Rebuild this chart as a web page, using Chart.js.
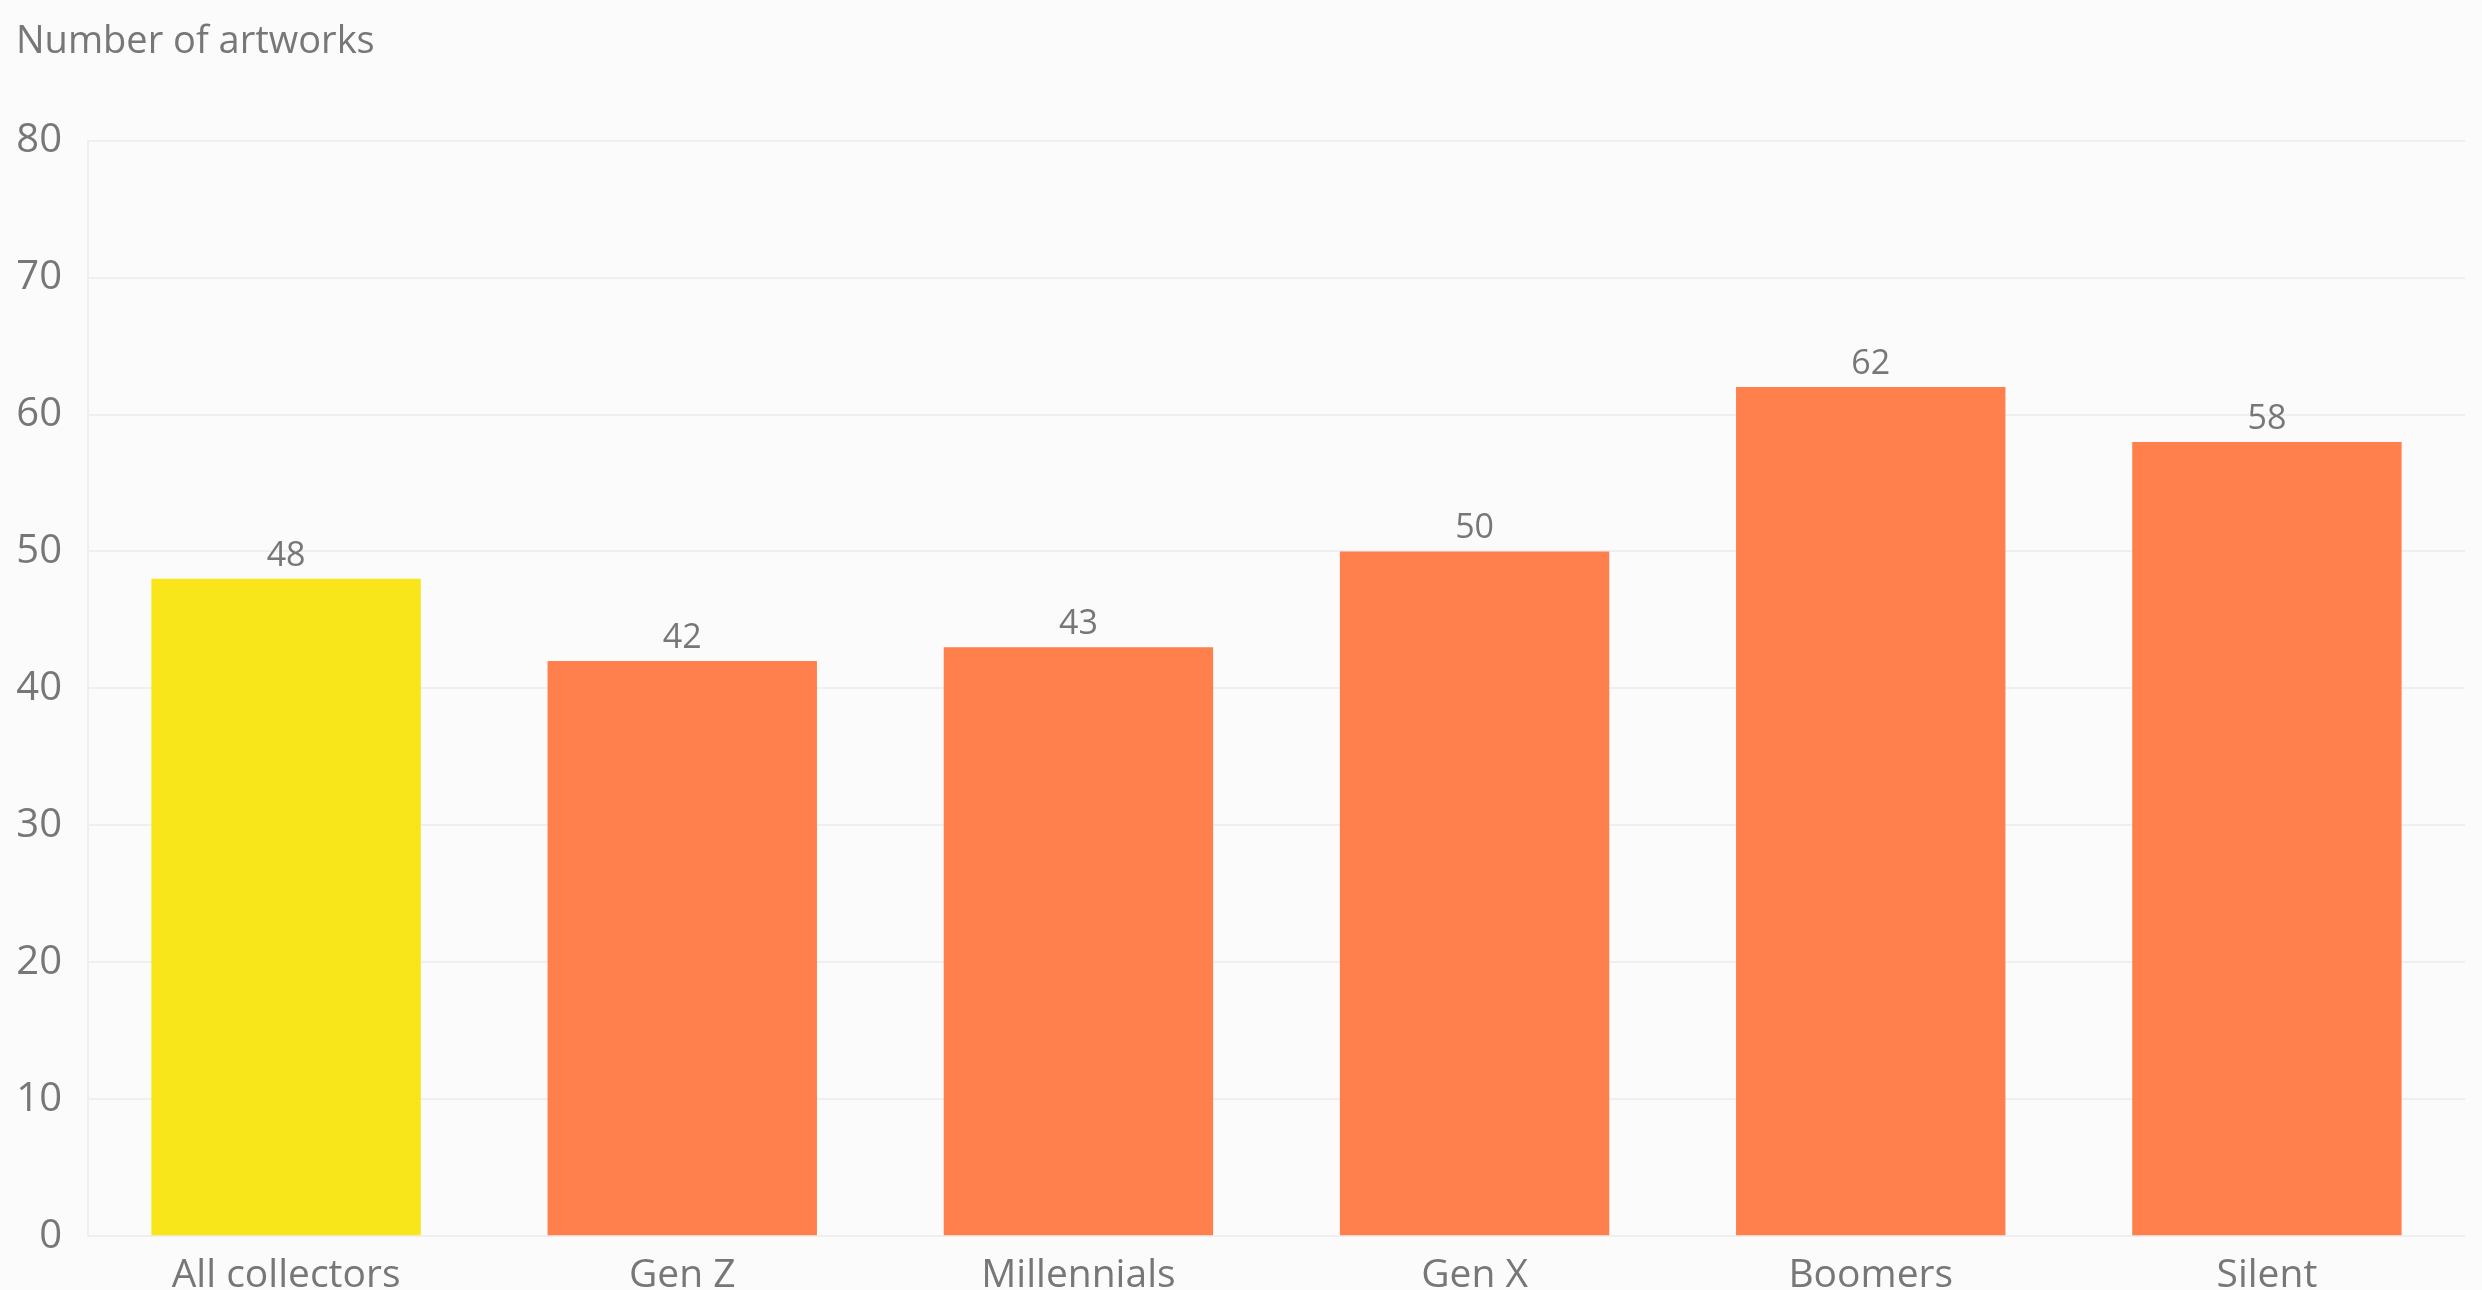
<!DOCTYPE html>
<html lang="en">
<head>
  <meta charset="UTF-8">
  <title>Number of artworks by generation</title>
  <script src="https://cdn.jsdelivr.net/npm/chart.js"></script>
  <style>
    html, body { margin: 0; padding: 0; background: #fbfbfb; }
    .chart-container { width: 2482px; height: 1290px; }
  </style>
</head>
<body>
  <div class="chart-container">
    <canvas id="artworksChart"></canvas>
  </div>

<script>
const generations = ['All collectors', 'Gen Z', 'Millennials', 'Gen X', 'Boomers', 'Silent'];
const artworks = [48, 42, 43, 50, 62, 58];
const barColors = ['#f8e51a', '#ff7f4d', '#ff7f4d', '#ff7f4d', '#ff7f4d', '#ff7f4d'];

const textColor = '#777777';
const gridColor = '#efefef';
const fontFamily = '"Open Sans", "Noto Sans", sans-serif';

// value labels above each bar
const valueLabels = {
  id: 'valueLabels',
  afterDatasetsDraw(chart) {
    const ctx = chart.ctx;
    const meta = chart.getDatasetMeta(0);
    ctx.save();
    ctx.fillStyle = textColor;
    ctx.font = '34px ' + fontFamily;
    ctx.textAlign = 'center';
    ctx.textBaseline = 'bottom';
    meta.data.forEach((bar, i) => {
      ctx.fillText(artworks[i], bar.x, bar.y - 6);
    });
    ctx.restore();
  }
};

new Chart(document.getElementById('artworksChart'), {
  type: 'bar',
  data: {
    labels: generations,
    datasets: [{ data: artworks, backgroundColor: barColors, categoryPercentage: 1, barPercentage: 0.68 }]
  },
  options: {
    responsive: true,
    maintainAspectRatio: false,
    animation: false,
    layout: { padding: { left: 16, right: 17, top: 0, bottom: -17 } },
    plugins: {
      legend: { display: false },
      tooltip: { enabled: false },
      title: {
        display: true,
        text: 'Number of artworks',
        align: 'start',
        color: textColor,
        font: { family: fontFamily, size: 38, weight: 'normal' },
        padding: { top: 19, bottom: 76 }
      }
    },
    scales: {
      x: {
        grid: { display: false },
        border: { display: false },
        ticks: { color: textColor, font: { family: fontFamily, size: 39 }, padding: 8 }
      },
      y: {
        min: 0,
        max: 80,
        afterFit(scale) { scale.width = 72; },
        ticks: { stepSize: 10, color: textColor, font: { family: fontFamily, size: 40 }, padding: 26 },
        grid: { color: gridColor, lineWidth: 2, drawTicks: false },
        border: { display: true, color: gridColor, width: 2 }
      }
    }
  },
  plugins: [valueLabels]
});
</script>
</body>
</html>
